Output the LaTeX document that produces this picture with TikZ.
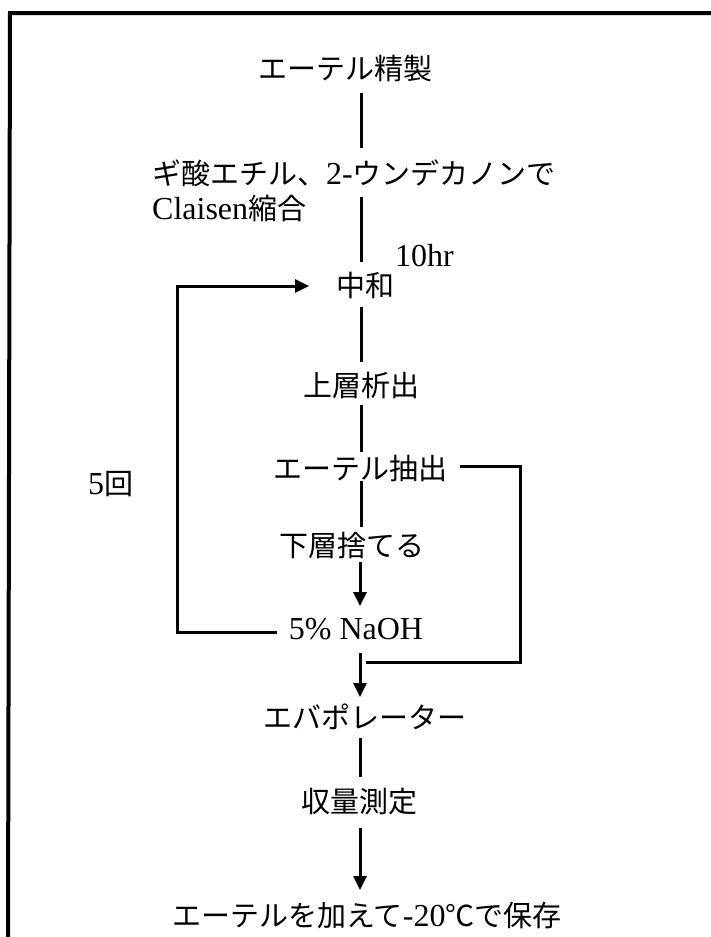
\documentclass[tikz,border=0pt]{standalone}
\usepackage{fontspec}
\setmainfont{Liberation Serif}
\newfontfamily\jpfont{Noto Sans CJK JP}
\newcommand{\J}[1]{{\jpfont\fontsize{29}{32}\selectfont #1}}
\usetikzlibrary{arrows.meta}
\begin{document}
\begin{tikzpicture}[x=1pt,y=-1pt,
  lbl/.style={inner sep=0pt,anchor=base,font=\fontsize{32}{34}\selectfont},
  lblw/.style={inner sep=0pt,anchor=base west,font=\fontsize{32}{34}\selectfont},
  conn/.style={line width=3pt},
  arr/.style={line width=3pt,-{Triangle[length=14pt,width=13pt]}},
  frame/.style={line width=4pt}]
\useasboundingbox (0,0) rectangle (711,937);
% frame
\coordinate (fb) at (8,937);
\coordinate (ftl) at (10,13);
\coordinate (ftr) at (711,13);
\draw[frame] (fb) -- (ftl) -- (ftr);
% texts
\node[lbl]  (t1)  at (345,79)  {\J{エーテル精製}};
\node[lblw] (t2)  at (152,184) {\J{ギ酸エチル、}2-\J{ウンデカノンで}};
\node[lblw] (t3)  at (152,219) {Claisen\J{縮合}};
\node[lblw] (t10) at (395,266) {10hr};
\node[lbl]  (t4)  at (365,296) {\J{中和}};
\node[lbl]  (t5)  at (361,396) {\J{上層析出}};
\node[lbl]  (t6)  at (360,479) {\J{エーテル抽出}};
\node[lblw] (t5x) at (88,494)  {5\J{回}};
\node[lbl]  (t7)  at (352,556) {\J{下層捨てる}};
\node[lbl]  (t8)  at (356,639) {5\% NaOH};
\node[lbl]  (t9)  at (365,728) {\J{エバポレーター}};
\node[lbl]  (t11) at (359,812) {\J{収量測定}};
\node[lbl]  (t12) at (367,926) {\J{エーテルを加えて}-20\J{℃で保存}};
% connector ends
\coordinate (a1) at (361,93);  \coordinate (b1) at (361,148);
\coordinate (a2) at (361,197); \coordinate (b2) at (361,262);
\coordinate (a3) at (361,307); \coordinate (b3) at (361,362);
\coordinate (a4) at (361,405); \coordinate (b4) at (361,452);
\coordinate (a5) at (361,481); \coordinate (b5) at (361,527);
\coordinate (a6) at (360,562); \coordinate (b6) at (360,606);
\coordinate (a7) at (360,653); \coordinate (b7) at (360,697);
\coordinate (a8) at (360,738); \coordinate (b8) at (360,777);
\coordinate (a9) at (360,828); \coordinate (b9) at (360,890);
\coordinate (la) at (277,632); \coordinate (lb) at (177,632);
\coordinate (lc) at (177,286); \coordinate (ld) at (309,286);
\coordinate (ra) at (460,466); \coordinate (rb) at (520,466);
\coordinate (rc) at (520,662); \coordinate (rd) at (366,662);
\draw[conn] (a1) -- (b1);
\draw[conn] (a2) -- (b2);
\draw[conn] (a3) -- (b3);
\draw[conn] (a4) -- (b4);
\draw[conn] (a5) -- (b5);
\draw[arr] (a6) -- (b6);
\draw[arr] (a7) -- (b7);
\draw[conn] (a8) -- (b8);
\draw[arr] (a9) -- (b9);
\draw[arr] (la) -- (lb) -- (lc) -- (ld);
\draw[conn] (ra) -- (rb) -- (rc) -- (rd);
\end{tikzpicture}
\end{document}
